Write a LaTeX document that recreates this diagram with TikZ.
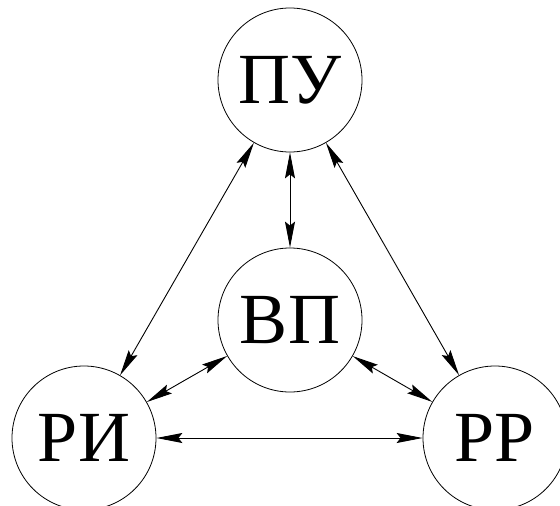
\documentclass[tikz,border=0pt]{standalone}
\usepackage{fontspec}
\setmainfont{Liberation Serif}
\usetikzlibrary{arrows.meta}
\tikzset{
  unit/.style={circle, draw, line width=0.8pt, minimum size=144pt, inner sep=0pt,
    font=\fontsize{72}{72}\selectfont},
  link/.style={line width=0.9pt,
    {Stealth[length=26pt,width=10pt,inset=4pt]}-{Stealth[length=26pt,width=10pt,inset=4pt]}}
}
\begin{document}
\begin{tikzpicture}[x=1pt,y=-1pt]
  \useasboundingbox (0,0) rectangle (560,506);
  \clip (0,0) rectangle (560,506);
  \fill[white] (0,0) rectangle (560,506);
  \node[unit] (pu) at (290,80) {ПУ};
  \node[unit] (vp) at (290,320) {ВП};
  \node[unit] (ri) at (84,438) {РИ};
  \node[unit] (rr) at (495,438) {РР};
  \draw[link] (pu) -- (vp);
  \draw[link] (pu) -- (ri);
  \draw[link] (pu) -- (rr);
  \draw[link] (vp) -- (ri);
  \draw[link] (vp) -- (rr);
  \draw[link] (ri) -- (rr);
\end{tikzpicture}
\end{document}
